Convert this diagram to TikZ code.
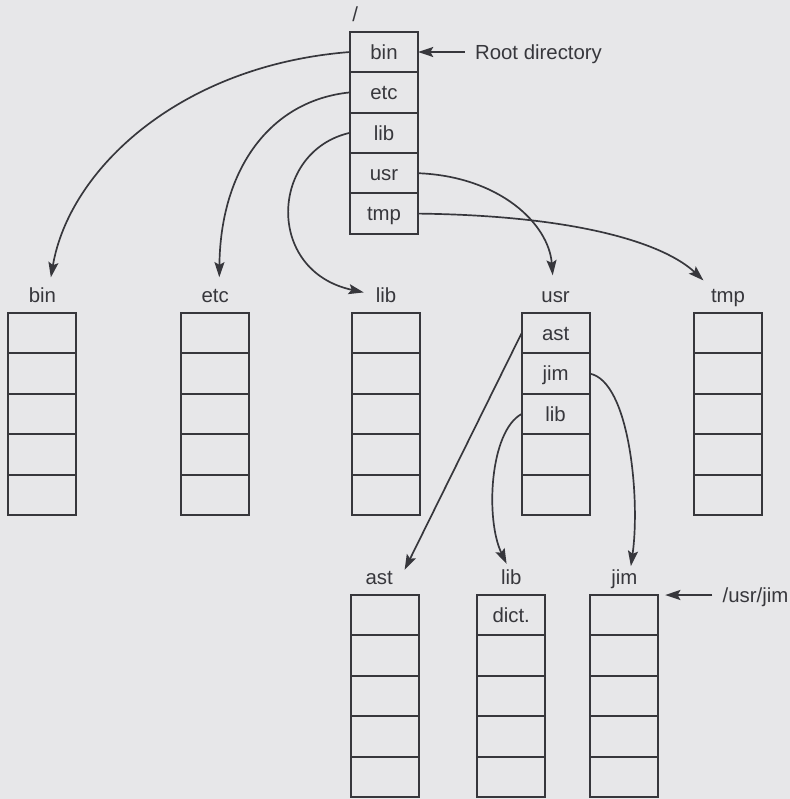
\documentclass[tikz,border=0pt]{standalone}
\usepackage{fontspec}
\setmainfont{Liberation Sans}
\usepackage{tikz}
\usetikzlibrary{arrows.meta,positioning}
\definecolor{paper}{RGB}{231,231,233}
\definecolor{ink}{RGB}{55,55,60}

\begin{document}
\begin{tikzpicture}[node distance=0.26cm,>={Stealth[length=0.38cm,width=0.25cm,inset=0.07cm]}]
  \tikzstyle{cell}=[draw=ink,line width=1.4pt,minimum width=1.7cm,minimum height=1.01cm,inner sep=0pt,outer sep=0pt]
  \tikzstyle{entry}=[inner sep=0pt,text height=10.5pt,text depth=0pt,text=ink,font=\fontsize{14.5}{17}\selectfont]
  \tikzstyle{lbl}=[entry]
  \tikzstyle{link}=[->,draw=ink,line width=1.2pt]
  \fill[paper] (0,0) rectangle (19.75,-19.975);
  \useasboundingbox (0,0) rectangle (19.75,-19.975);
  % directories, five slots each
  \foreach \d/\x/\y in {root/9.6/-1.3,bin/1.06/-8.33,etc/5.38/-8.33,lib/9.65/-8.33,usr/13.89/-8.33,tmp/18.2/-8.33,ast/9.63/-15.38,usrlib/12.78/-15.38,jim/15.61/-15.38}{
    \node[cell] (\d1) at (\x,\y) {};
    \foreach \i [remember=\i as \p (initially 1)] in {2,...,5}
      \node[cell,below=0pt of \d\p] (\d\i) {};
  }
  \foreach \c/\t in {root1/bin,root2/etc,root3/lib,root4/usr,root5/tmp,usr1/ast,usr2/jim,usr3/lib,usrlib1/dict.}
    \node[entry] (\c t) at (\c) {\t};
  % names above the directories
  \node[lbl,above=of root1,xshift=-0.72cm] (rootname) {/};
  \foreach \d in {bin,etc,lib,usr,tmp,jim}
    \node[lbl,above=of \d1] (\d name) {\d};
  \node[lbl,above=of ast1,xshift=-0.15cm] (astname) {ast};
  \node[lbl,above=of usrlib1] (usrlibname) {lib};
  \node[lbl,right=1.42cm of root1] (rootdir) {Root directory};
  \node[lbl,right=1.6cm of jim1.north east] (usrjim) {/usr/jim};
  \draw[link,shorten <=0.25cm] (rootdir) -- (root1);
  \draw[link,shorten <=0.25cm,shorten >=0.17cm] (usrjim.west) -- (jim1.north east);
  % entries point to their directories
  \draw[link,shorten >=0.25cm] (root1.west) .. controls +(-4.25,-0.33) and +(0.5,2.95) .. ([xshift=0.17cm]binname.north);
  \draw[link,shorten >=0.25cm] (root2.west) .. controls +(-2.0,-0.2) and +(0.03,2.95) .. ([xshift=0.1cm]etcname.north);
  \draw[link,shorten >=0.3cm] (root3.west) .. controls +(-2.0,-0.45) and +(-2.78,0.6) .. (libname.west);
  \draw[link,shorten >=0.3cm] (root4.east) .. controls +(2.05,-0.08) and +(-0.12,1.58) .. ([xshift=-0.05cm]usrname.north);
  \draw[link,shorten >=0.25cm] (root5.east) .. controls +(4.05,-0.05) and +(-1.15,1.08) .. (tmpname.north west);
  \draw[link,shorten >=0.2cm] (usr1.west) -- ([xshift=0.2cm]astname.east);
  \draw[link,shorten >=0.08cm] (usr2.east) .. controls +(1.0,-0.18) and +(0.25,1.75) .. ([xshift=0.15cm]jimname.north);
  \draw[link,shorten >=0.15cm] (usr3.west) .. controls +(-0.8,-0.43) and +(-0.6,1.25) .. ([xshift=-0.05cm]usrlibname.north);
\end{tikzpicture}
\end{document}
